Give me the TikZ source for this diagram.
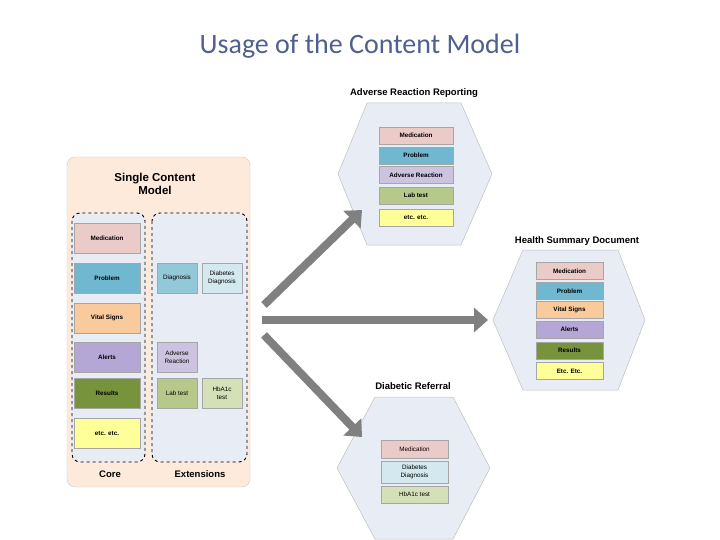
\documentclass[tikz,border=0pt]{standalone}
\usepackage{fontspec}
\setmainfont{Liberation Sans}
\newfontfamily\titlefont{Carlito}
\usetikzlibrary{arrows.meta,shapes.geometric}
\definecolor{cmed}{HTML}{EACBC8}
\definecolor{cprob}{HTML}{6FB8D0}
\definecolor{cvit}{HTML}{F9CB9C}
\definecolor{calert}{HTML}{B4A7D6}
\definecolor{cres}{HTML}{77933C}
\definecolor{cetc}{HTML}{FFFF99}
\definecolor{clab}{HTML}{B6C98A}
\definecolor{cdiag}{HTML}{93C8D8}
\definecolor{cddiag}{HTML}{D3E8EF}
\definecolor{cadv}{HTML}{CCC3E0}
\definecolor{chba}{HTML}{D4E0B8}
\definecolor{panel}{HTML}{FDEADA}
\definecolor{hexf}{HTML}{E8ECF5}
\definecolor{ttl}{HTML}{4F5F8F}
\begin{document}
\begin{tikzpicture}[x=1pt,y=-1pt,
  box/.style={draw=black!35,line width=0.6pt,inner sep=0pt,align=center,font=\bfseries\fontsize{6.3}{7.5}\selectfont},
  hex/.style={draw=black!25,fill=hexf,line width=0.5pt},
  head/.style={font=\bfseries\fontsize{9.5}{11}\selectfont},
  big/.style={line width=8pt,draw=black!50,-{Triangle[length=14pt,width=24pt]}}]
\useasboundingbox (0,0) rectangle (720,540);
\node[font=\titlefont\fontsize{28}{32}\selectfont,text=ttl] (title) at (360,46) {Usage of the Content Model};
% left panel
\draw[draw=black!20,fill=panel,rounded corners=8pt] (67,157) rectangle (250,487);
\node[font=\bfseries\fontsize{11.5}{13.5}\selectfont,align=center] (sct) at (155,184) {Single Content\\Model};
\draw[dashed,fill=hexf,line width=0.9pt,rounded corners=8pt] (72,213) rectangle (145,462);
\draw[dashed,fill=hexf,line width=0.9pt,rounded corners=8pt] (152,213) rectangle (247,462);
\node[font=\bfseries\fontsize{9.5}{11}\selectfont] (core) at (110,474) {Core};
\node[font=\bfseries\fontsize{9.5}{11}\selectfont] (ext) at (200,474) {Extensions};
\tikzset{cb/.style={box,minimum width=66pt,minimum height=30pt}}
\node[cb,fill=cmed] (c1) at (107,238) {Medication};
\node[cb,fill=cprob] (c2) at (107,278) {Problem};
\node[cb,fill=cvit] (c3) at (107,318) {Vital Signs};
\node[cb,fill=calert] (c4) at (107,357) {Alerts};
\node[cb,fill=cres] (c5) at (107,393) {Results};
\node[cb,fill=cetc] (c6) at (107,433) {etc. etc.};
\tikzset{eb/.style={box,minimum width=40pt,minimum height=30pt,font=\fontsize{6.3}{7.5}\selectfont}}
\node[eb,fill=cdiag] (e1) at (177,278) {Diagnosis};
\node[eb,fill=cddiag] (e2) at (222,278) {Diabetes\\Diagnosis};
\node[eb,fill=cadv] (e3) at (177,357) {Adverse\\Reaction};
\node[eb,fill=clab] (e4) at (177,393) {Lab test};
\node[eb,fill=chba] (e5) at (222,393) {HbA1c\\test};
% hexagons
\draw[hex] (338,174) -- (367,103) -- (461,103) -- (492,174) -- (461,245) -- (367,245) -- cycle;
\draw[hex] (493,320) -- (523,250) -- (618,250) -- (645,320) -- (618,390) -- (523,390) -- cycle;
\draw[hex] (337,468) -- (375,397) -- (453,397) -- (490,468) -- (453,539) -- (375,539) -- cycle;
\node[head] (h1) at (414,93) {Adverse Reaction Reporting};
\node[head] (h2) at (577,241) {Health Summary Document};
\node[head] (h3) at (413,386) {Diabetic Referral};
\tikzset{tb/.style={box,minimum width=74pt,minimum height=17pt}}
\node[tb,fill=cmed] (a1) at (416,135.5) {Medication};
\node[tb,fill=cprob] (a2) at (416,155.5) {Problem};
\node[tb,fill=cadv] (a3) at (416,175) {Adverse Reaction};
\node[tb,fill=clab] (a4) at (416,195.5) {Lab test};
\node[tb,fill=cetc] (a5) at (416,217.5) {etc. etc.};
\tikzset{hb/.style={box,minimum width=67pt,minimum height=17pt}}
\node[hb,fill=cmed] (s1) at (569.5,271) {Medication};
\node[hb,fill=cprob] (s2) at (569.5,291) {Problem};
\node[hb,fill=cvit] (s3) at (569.5,310) {Vital Signs};
\node[hb,fill=calert] (s4) at (569.5,329.5) {Alerts};
\node[hb,fill=cres] (s5) at (569.5,350.5) {Results};
\node[hb,fill=cetc] (s6) at (569.5,371) {Etc. Etc.};
\tikzset{db/.style={box,minimum width=67pt,font=\fontsize{6.3}{7.5}\selectfont}}
\node[db,fill=cmed,minimum height=18pt] (d1) at (414.5,449) {Medication};
\node[db,fill=cddiag,minimum height=22pt] (d2) at (414.5,472) {Diabetes\\Diagnosis};
\node[db,fill=chba,minimum height=17pt] (d3) at (414.5,494.5) {HbA1c test};
% arrows
\coordinate (p0) at (264,305);
\coordinate (p1) at (362,210);
\coordinate (q0) at (262,320);
\coordinate (q1) at (488,320);
\coordinate (r0) at (264,335);
\coordinate (r1) at (362,437);
\draw[big] (p0) -- (p1);
\draw[big] (q0) -- (q1);
\draw[big] (r0) -- (r1);
\end{tikzpicture}
\end{document}
